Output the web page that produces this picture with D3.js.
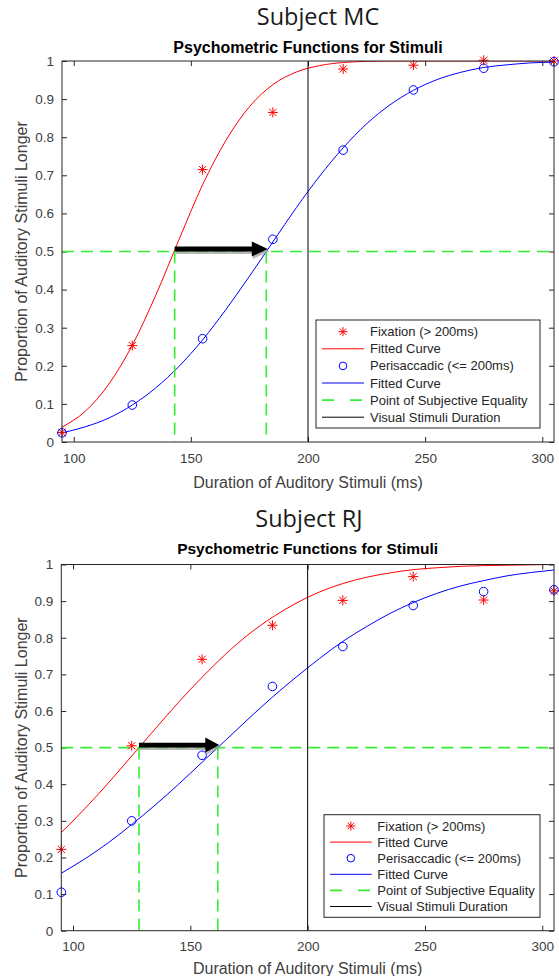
<!DOCTYPE html>
<html><head><meta charset="utf-8">
<script src="https://cdn.jsdelivr.net/npm/d3@7/dist/d3.min.js"></script>
<style>body{margin:0;background:#fff} svg{display:block}</style>
</head><body>
<svg id="c" width="559" height="976"></svg>
<script>
// ---------- data ----------
const durations = [95, 125, 155, 185, 215, 245, 275, 305];
const mcFixation = [0.025, 0.253, 0.715, 0.865, 0.979, 0.989, 1.002, 1.0];
const mcPerisaccadic = [0.024, 0.097, 0.271, 0.532, 0.766, 0.924, 0.981, 0.998];
const rjFixation = [0.222, 0.505, 0.741, 0.834, 0.902, 0.967, 0.903, 0.928];
const rjPerisaccadic = [0.105, 0.300, 0.479, 0.667, 0.776, 0.888, 0.926, 0.931];

const fitDurations = [95, 105, 115, 125, 135, 145, 155, 165, 175, 185, 195, 205, 215, 225, 235, 245, 255, 265, 275, 285, 295, 305];
const mcFixationFit = [0.039, 0.081, 0.152, 0.254, 0.385, 0.532, 0.675, 0.792, 0.880, 0.938, 0.971, 0.988, 0.996, 0.999, 1.0, 1.0, 1.0, 1.0, 1.0, 1.0, 1.0, 1.0];
const mcPerisaccadicFit = [0.024, 0.040, 0.063, 0.097, 0.142, 0.199, 0.268, 0.348, 0.435, 0.525, 0.615, 0.698, 0.772, 0.835, 0.885, 0.923, 0.951, 0.970, 0.983, 0.990, 0.995, 0.997];
const rjFixationFit = [0.268, 0.333, 0.403, 0.477, 0.551, 0.624, 0.692, 0.755, 0.810, 0.856, 0.894, 0.925, 0.948, 0.965, 0.977, 0.986, 0.991, 0.995, 0.997, 0.998, 0.999, 1.0];
const rjPerisaccadicFit = [0.157, 0.196, 0.240, 0.290, 0.343, 0.400, 0.460, 0.520, 0.580, 0.638, 0.692, 0.743, 0.790, 0.830, 0.866, 0.896, 0.921, 0.941, 0.956, 0.969, 0.978, 0.985];

const mcPSE = [143.1, 182.2];
const rjPSE = [128.1, 161.7];
const pseLevel = 0.5;
const visualDuration = 200;

const xDomain = [95, 305];
const yDomain = [0, 1];
const xTicks = [100, 150, 200, 250, 300];
const xTickLabels = ["100", "150", "200", "250", "300"];
const yTicks = [0, 0.1, 0.2, 0.3, 0.4, 0.5, 0.6, 0.7, 0.8, 0.9, 1];
const yTickLabels = ["0", "0.1", "0.2", "0.3", "0.4", "0.5", "0.6", "0.7", "0.8", "0.9", "1"];

const subjectTitles = ["Subject MC", "Subject RJ"];
const panelTitle = "Psychometric Functions for Stimuli";
const xLabel = "Duration of Auditory Stimuli (ms)";
const yLabel = "Proportion of Auditory Stimuli Longer";
const legendLabels = ["Fixation (> 200ms)", "Fitted Curve", "Perisaccadic (<= 200ms)", "Fitted Curve", "Point of Subjective Equality", "Visual Stimuli Duration"];

// ---------- drawing ----------
const svg = d3.select("#c");
const FONT = "'Liberation Sans', Arial, Helvetica, sans-serif";
const RED = "#ff0000", BLUE = "#0000ff", GREEN = "#33ee33", AX = "#262626", TXT = "#404040";

function starPath(cx, cy, r) {
  const d = r * 0.72;
  return `M${cx - r},${cy}L${cx + r},${cy}M${cx},${cy - r}L${cx},${cy + r}` +
         `M${cx - d},${cy - d}L${cx + d},${cy + d}M${cx - d},${cy + d}L${cx + d},${cy - d}`;
}

function drawPanel(idx, cfg, fix, peri, fixFit, periFit, pse) {
  const g = svg.append("g");
  const x = d3.scaleLinear().domain(xDomain).range([cfg.left, cfg.right]);
  const y = d3.scaleLinear().domain(yDomain).range([cfg.bottom, cfg.top]);

  // titles
  g.append("text").attr("x", cfg.subjX).attr("y", cfg.subjY).attr("text-anchor", "middle")
    .attr("font-family", "'Open Sans', 'Noto Sans', sans-serif").attr("font-size", cfg.subjSize)
    .attr("fill", "#1a1a1a").text(subjectTitles[idx]);
  g.append("text").attr("x", (cfg.left + cfg.right) / 2).attr("y", cfg.titleY).attr("text-anchor", "middle")
    .attr("font-family", FONT).attr("font-size", cfg.titleSize).attr("font-weight", "bold")
    .attr("fill", "#000").text(panelTitle);

  // axes
  const xa = g.append("g").attr("transform", `translate(0,${cfg.bottom})`)
    .call(d3.axisBottom(x).tickValues(xTicks).tickFormat((d, i) => xTickLabels[i]).tickSizeInner(-5).tickSizeOuter(0).tickPadding(cfg.xPad));
  const ya = g.append("g").attr("transform", `translate(${cfg.left},0)`)
    .call(d3.axisLeft(y).tickValues(yTicks).tickFormat((d, i) => yTickLabels[i]).tickSizeInner(-5).tickSizeOuter(0).tickPadding(8));
  const ta = g.append("g").attr("transform", `translate(0,${cfg.top})`)
    .call(d3.axisTop(x).tickValues(xTicks).tickFormat("").tickSizeInner(-5).tickSizeOuter(0));
  const ra = g.append("g").attr("transform", `translate(${cfg.right},0)`)
    .call(d3.axisRight(y).tickValues(yTicks).tickFormat("").tickSizeInner(-5).tickSizeOuter(0));
  [xa, ya, ta, ra].forEach(a => {
    a.select(".domain").remove();
    a.selectAll("line").attr("stroke", AX);
    a.selectAll("text").attr("font-family", FONT).attr("font-size", 13.5).attr("fill", TXT);
  });

  g.append("text").attr("x", (cfg.left + cfg.right) / 2).attr("y", cfg.xLabelY).attr("text-anchor", "middle")
    .attr("font-family", FONT).attr("font-size", 16).attr("fill", TXT).text(xLabel);
  g.append("text").attr("transform", `translate(${cfg.yLabelX},${(cfg.top + cfg.bottom) / 2}) rotate(-90)`)
    .attr("text-anchor", "middle").attr("font-family", FONT).attr("font-size", 16).attr("fill", TXT).text(yLabel);

  // clip
  const clipId = "clip" + idx;
  g.append("clipPath").attr("id", clipId).append("rect")
    .attr("x", cfg.left).attr("y", cfg.top).attr("width", cfg.right - cfg.left).attr("height", cfg.bottom - cfg.top);

  const line = d3.line().x(d => x(d[0])).y(d => y(d[1])).curve(d3.curveMonotoneX);
  const plot = g.append("g");
  const clipped = plot.append("g").attr("clip-path", `url(#${clipId})`);

  // fixation markers
  plot.append("g").selectAll("path").data(durations.map((d, i) => [d, fix[i]])).join("path")
    .attr("d", d => starPath(x(d[0]), y(d[1]), 5)).attr("stroke", RED).attr("stroke-width", 1).attr("fill", "none");
  clipped.append("path").datum(fitDurations.map((d, i) => [d, fixFit[i]])).attr("d", line)
    .attr("fill", "none").attr("stroke", RED).attr("stroke-width", 1);
  plot.append("g").selectAll("circle").data(durations.map((d, i) => [d, peri[i]])).join("circle")
    .attr("cx", d => x(d[0])).attr("cy", d => y(d[1])).attr("r", 4.3)
    .attr("fill", "none").attr("stroke", BLUE).attr("stroke-width", 1);
  clipped.append("path").datum(fitDurations.map((d, i) => [d, periFit[i]])).attr("d", line)
    .attr("fill", "none").attr("stroke", BLUE).attr("stroke-width", 1);

  // PSE lines
  const dash = "12,7";
  clipped.append("line").attr("x1", x(xDomain[0])).attr("x2", x(xDomain[1])).attr("y1", y(pseLevel)).attr("y2", y(pseLevel))
    .attr("stroke", GREEN).attr("stroke-width", 1.6).attr("stroke-dasharray", dash);
  pse.forEach(p => {
    clipped.append("line").attr("x1", x(p)).attr("x2", x(p)).attr("y1", y(pseLevel)).attr("y2", y(0))
      .attr("stroke", GREEN).attr("stroke-width", 1.6).attr("stroke-dasharray", dash);
  });
  // visual duration
  clipped.append("line").attr("x1", x(visualDuration)).attr("x2", x(visualDuration)).attr("y1", y(0)).attr("y2", y(1))
    .attr("stroke", "#000").attr("stroke-width", 1);

  // box
  g.append("rect").attr("x", cfg.left).attr("y", cfg.top).attr("width", cfg.right - cfg.left).attr("height", cfg.bottom - cfg.top)
    .attr("fill", "none").attr("stroke", AX).attr("stroke-width", 1);

  // arrow
  const ax0 = x(pse[0]), ax1 = x(pse[1]) + 1.5, ay = y(pseLevel) - 2.5;
  const hl = cfg.headLen, hh = 7.5, bh = 2.4;
  const arrowD = (ox, oy) => `M${ax0 + ox},${ay - bh + oy}L${ax1 - hl + ox},${ay - bh + oy}L${ax1 - hl + ox},${ay - hh + oy}L${ax1 + ox},${ay + oy}L${ax1 - hl + ox},${ay + hh + oy}L${ax1 - hl + ox},${ay + bh + oy}L${ax0 + ox},${ay + bh + oy}Z`;
  g.append("path").attr("d", arrowD(1, 2.5)).attr("fill", "#9a9a9a").attr("opacity", 0.7);
  g.append("path").attr("d", arrowD(0, 0)).attr("fill", "#000");

  // legend
  const L = cfg.legend;
  const lg = g.append("g");
  lg.append("rect").attr("x", L.x).attr("y", L.y).attr("width", L.w).attr("height", L.h)
    .attr("fill", "#fff").attr("stroke", AX).attr("stroke-width", 1);
  legendLabels.forEach((lab, i) => {
    const cy = L.row0 + i * L.step;
    const mx = (L.s0 + L.s1) / 2;
    if (i === 0) lg.append("path").attr("d", starPath(mx, cy, 4.5)).attr("stroke", RED).attr("fill", "none");
    else if (i === 2) lg.append("circle").attr("cx", mx).attr("cy", cy).attr("r", 3.8).attr("fill", "none").attr("stroke", BLUE);
    else {
      const col = i === 1 ? RED : i === 3 ? BLUE : i === 4 ? GREEN : "#000";
      lg.append("line").attr("x1", L.s0).attr("x2", L.s1).attr("y1", cy).attr("y2", cy)
        .attr("stroke", col).attr("stroke-width", i === 4 ? 1.6 : 1)
        .attr("stroke-dasharray", i === 4 ? "12,16" : null);
    }
    lg.append("text").attr("x", L.tx).attr("y", cy).attr("dy", "0.35em")
      .attr("font-family", FONT).attr("font-size", 13).attr("fill", "#262626").text(lab);
  });
}

drawPanel(0, {
  left: 62, right: 554, top: 61, bottom: 442,
  subjX: 318, subjY: 25, subjSize: 23.5, titleY: 53, titleSize: 16,
  xPad: 11, xLabelY: 487.5, yLabelX: 26.5, headLen: 16,
  legend: { x: 316, y: 320, w: 224, h: 108, row0: 331.7, step: 17.1, s0: 322, s1: 364, tx: 370 }
}, mcFixation, mcPerisaccadic, mcFixationFit, mcPerisaccadicFit, mcPSE);

drawPanel(1, {
  left: 61.3, right: 554, top: 564.5, bottom: 930.7,
  subjX: 309, subjY: 526.7, subjSize: 23.5, titleY: 554.3, titleSize: 15.5,
  xPad: 10.5, xLabelY: 973.5, yLabelX: 26.5, headLen: 14,
  legend: { x: 324, y: 814.7, w: 216, h: 102.6, row0: 826, step: 16.1, s0: 330, s1: 371.7, tx: 377.3 }
}, rjFixation, rjPerisaccadic, rjFixationFit, rjPerisaccadicFit, rjPSE);
</script>
</body></html>
